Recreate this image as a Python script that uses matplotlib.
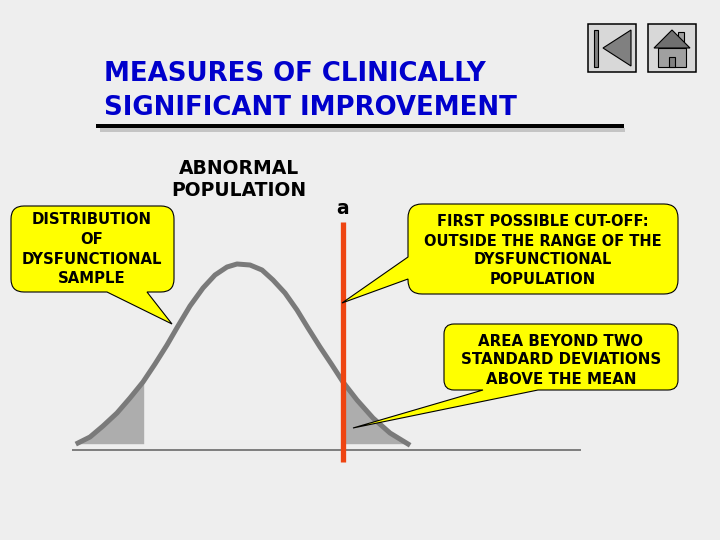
import matplotlib
matplotlib.use("Agg")
import matplotlib.pyplot as plt
from matplotlib.path import Path
from matplotlib.patches import PathPatch, Polygon, Rectangle

curve_x = [78, 90, 103, 117, 130, 143, 155, 167, 178, 190, 203, 215, 227, 237, 250, 262, 273, 285, 297, 308, 320, 332, 343, 357, 373, 390, 408]
curve_y = [443, 437, 426, 413, 398, 382, 364, 345, 326, 306, 288, 275, 267, 264, 265, 270, 280, 293, 310, 328, 347, 365, 382, 400, 418, 433, 444]
left_tail_x = [78, 90, 103, 117, 130, 143.7]
left_tail_y = [443, 437, 426, 413, 398, 381]
right_tail_x = [343, 357, 373, 390, 408]
right_tail_y = [382, 400, 418, 433, 444]
tail_base = 443.7

title_lines = ["MEASURES OF CLINICALLY", "SIGNIFICANT IMPROVEMENT"]
heading_lines = ["ABNORMAL", "POPULATION"]
marker_label = "a"
note_sample = ["DISTRIBUTION", "OF", "DYSFUNCTIONAL", "SAMPLE"]
note_cutoff = ["FIRST POSSIBLE CUT-OFF:", "OUTSIDE THE RANGE OF THE", "DYSFUNCTIONAL", "POPULATION"]
note_area = ["AREA BEYOND TWO", "STANDARD DEVIATIONS", "ABOVE THE MEAN"]

BG = "#EEEEEE"
plt.rcParams["font.family"] = ["DejaVu Sans"]
fig = plt.figure(figsize=(7.2, 5.4), dpi=100, facecolor=BG)
ax = fig.add_axes([0, 0, 1, 1])
ax.set_xlim(0, 720)
ax.set_ylim(540, 0)
ax.axis("off")
PX = 0.72


def callout(x0, y0, x1, y1, r, tail, side, z=6):
    """Rounded box path with a pointer inserted on the given side."""
    a, tip, b = tail
    M, L, C, Z = Path.MOVETO, Path.LINETO, Path.CURVE3, Path.CLOSEPOLY
    v = [(x0 + r, y0), (x1 - r, y0), (x1, y0), (x1, y0 + r), (x1, y1 - r), (x1, y1), (x1 - r, y1)]
    c = [M, L, C, C, L, C, C]
    if side == "bottom":
        v += [b, tip, a]
        c += [L, L, L]
    v += [(x0 + r, y1), (x0, y1), (x0, y1 - r)]
    c += [L, C, C]
    if side == "left":
        v += [b, tip, a]
        c += [L, L, L]
    v += [(x0, y0 + r), (x0, y0), (x0 + r, y0), (x0 + r, y0)]
    c += [L, C, C, Z]
    ax.add_patch(PathPatch(Path(v, c), fc="#FFFF00", ec="black", lw=0.8, zorder=z, joinstyle="miter"))


def block(lines, x, ys, size, color="black", z=8):
    for line, y in zip(lines, ys):
        ax.text(x, y, line, ha="center", va="center", fontsize=size, fontweight="bold", color=color, zorder=z)


# title
ax.plot([100, 625], [130, 130], color="#C4C4C4", lw=4 * PX, solid_capstyle="butt", zorder=1)
ax.plot([96, 624], [126, 126], color="black", lw=4 * PX, solid_capstyle="butt", zorder=2)
for line, y in zip(title_lines, [74, 108]):
    ax.text(104, y, line, ha="left", va="center", fontsize=18.7, fontweight="bold", color="#0000CC")

# buttons
for bx in (588, 648):
    ax.add_patch(Rectangle((bx, 24), 48, 48, fc="#D8D8D8", ec="black", lw=1.1))
ax.add_patch(Rectangle((594, 30), 4, 37, fc="#808080", ec="black", lw=0.8))
ax.add_patch(Polygon([(631, 30), (603, 48), (631, 66)], fc="#808080", ec="black", lw=0.8))
ax.add_patch(Rectangle((678, 32), 6, 10, fc="#A0A0A0", ec="black", lw=0.8))
ax.add_patch(Rectangle((658, 48), 28, 19, fc="#A0A0A0", ec="black", lw=0.8))
ax.add_patch(Polygon([(654, 48), (672, 30), (690, 48)], fc="#707070", ec="black", lw=0.8))
ax.add_patch(Rectangle((669, 57), 6, 10, fc="#808080", ec="black", lw=0.8))

# curve
ax.plot([72, 581], [450, 450], color="#808080", lw=2 * PX, zorder=2, solid_capstyle="butt")
ax.fill_between(left_tail_x, left_tail_y, tail_base, color="#ADADAD", lw=0, zorder=2)
ax.fill_between(right_tail_x, right_tail_y, tail_base, color="#ADADAD", lw=0, zorder=2)
ax.plot(curve_x, curve_y, color="#7A7A7A", lw=5 * PX, zorder=3, solid_joinstyle="round")
ax.plot([342.7, 342.7], [222, 462], color="#EE4411", lw=5.3 * PX, solid_capstyle="butt", zorder=4)

# callouts
callout(11, 206, 174, 292, 13, [(107, 292), (172, 324), (147, 292)], "bottom")
callout(408, 204, 678, 294, 14, [(408, 257), (342, 303), (408, 279)], "left")
callout(444, 324, 678, 390, 10, [(483, 390), (353, 428), (538, 390)], "bottom")

block(heading_lines, 239, [168, 191], 13.5)
block([marker_label], 343, [208], 13.5)
block(note_sample, 92, [219.5, 239.5, 259, 278.5], 10.7)
block(note_cutoff, 543, [222, 241, 260, 280], 10.5)
block(note_area, 561, [341, 360, 379], 10.8)

fig.savefig("out.png", dpi=100, facecolor=BG)
